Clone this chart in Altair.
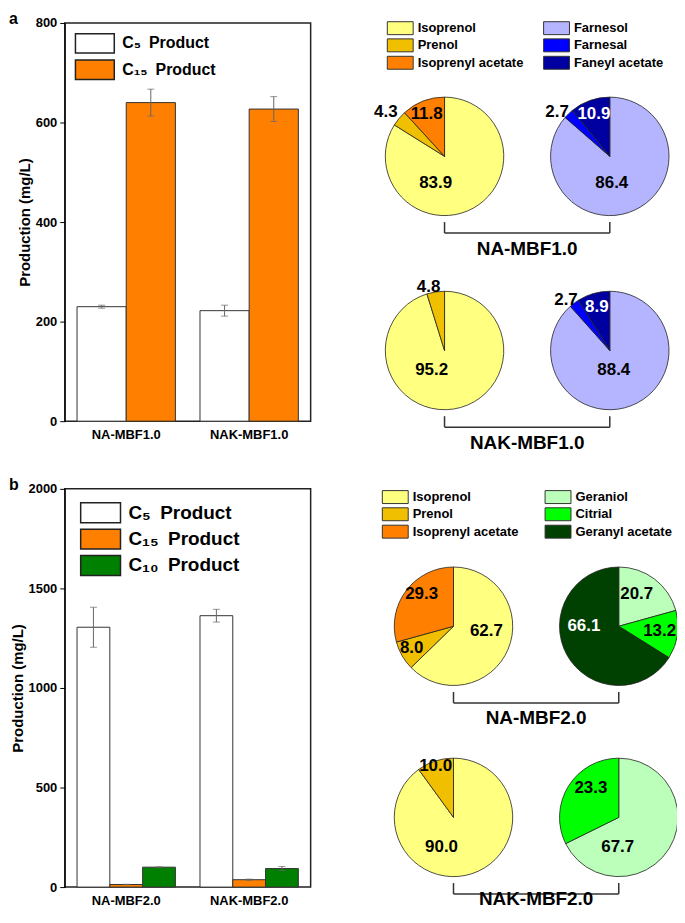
import math
import pandas as pd
import altair as alt

FONT = "Liberation Sans"

# ---------------- data: panel a bars ----------------
STRAINS_A = ["NA-MBF1.0", "NAK-MBF1.0"]
PRODUCTS_A = ["C₅\u2002Product", "C₁₅\u2002Product"]
C5_A = [230, 222]
C5_A_ERR = [3, 11]
C15_A = [640, 627]
C15_A_ERR = [27, 25]

# ---------------- data: panel b bars ----------------
STRAINS_B = ["NA-MBF2.0", "NAK-MBF2.0"]
PRODUCTS_B = ["C₅\u2002Product", "C₁₅\u2002Product", "C₁₀\u2002Product"]
C5_B = [1305, 1363]
C5_B_ERR = [100, 32]
C15_B = [13, 37]
C15_B_ERR = [1, 3]
C10_B = [100, 93]
C10_B_ERR = [2, 10]

# ---------------- data: pies (percent) ----------------
C5_COMPONENTS = ["Isoprenol", "Prenol", "Isoprenyl acetate"]
C15_COMPONENTS = ["Farnesol", "Farnesal", "Faneyl acetate"]
C10_COMPONENTS = ["Geraniol", "Citrial", "Geranyl acetate"]

PIE_A_NA_C5 = [83.9, 4.3, 11.8]
PIE_A_NA_C15 = [86.4, 2.7, 10.9]
PIE_A_NAK_C5 = [95.2, 4.8]
PIE_A_NAK_C15 = [88.4, 2.7, 8.9]
PIE_B_NA_C5 = [62.7, 8.0, 29.3]
PIE_B_NA_C10 = [20.7, 13.2, 66.1]
PIE_B_NAK_C5 = [90.0, 10.0]
PIE_B_NAK_C10 = [67.7, 32.3]
PIE_B_NAK_C10_LABELS = ["67.7", "23.3"]

# ---------------- styles ----------------
BAR_FILLS = ["#FFFFFF", "#FF8000", "#008000"]
C5_COLORS = ["#FFFF80", "#F0C000", "#FF8000"]
C15_COLORS = ["#B4B4FF", "#0000FF", "#0000A0"]
C10_COLORS = ["#BBFFBB", "#00FF00", "#004000"]
RECT = "M-2,-1H2V1H-2Z"   # 2:1 rectangle, drawn twice as wide as its layout box

# label offsets from pie centre (dx, dy) in px, and label colours
OFF_A_NA_C5 = [(-9, 27), (-59, -45), (-18, -43)]
OFF_A_NA_C15 = [(2, 27), (-53, -45), (-16, -43)]
OFF_A_NAK_C5 = [(-13, 20), (-16, -64)]
OFF_A_NAK_C15 = [(4, 20), (-44, -51), (-13, -44)]
OFF_B_NA_C5 = [(33, 5), (-42, 22), (-32, -32)]
OFF_B_NA_C10 = [(18, -32), (41, 5), (-35, 0)]
OFF_B_NAK_C5 = [(-12, 30), (-18, -52)]
OFF_B_NAK_C10 = [(-1, 30), (-28, -30)]
LC_BLACK3 = ["black", "black", "black"]
LC_WHITE_LAST = ["black", "black", "white"]
# distance (px) from pie-row centre down to the bracket caption
CAPTION_GAP_A = [93, 93]
CAPTION_GAP_B = [92, 82]


def bar_layers(strains, products, series, errs, ymax, yticks, legend_font, sym_h, leg_x, leg_y, row_pad):
    rows = []
    for p, vals, es in zip(products, series, errs):
        for s, v, e in zip(strains, vals, es):
            rows.append(dict(strain=s, product=p, value=v, lo=v - e, hi=v + e))
    df = pd.DataFrame(rows)
    xscale = alt.Scale(domain=strains, paddingInner=0.2, paddingOuter=0.1)
    oscale = alt.Scale(domain=products, paddingInner=0, paddingOuter=0)
    yscale = alt.Scale(domain=[0, ymax], nice=False, padding=0)
    xaxis = alt.Axis(title=None, labelAngle=0, ticks=False, domain=False, labelFontSize=13,
                     labelFontWeight="bold", labelColor="black", labelPadding=7)
    yaxis = alt.Axis(values=yticks, format="d", grid=False, title="Production (mg/L)",
                     titleFontSize=15, titleFontWeight="bold", titleColor="black", titlePadding=3,
                     labelFontSize=13, labelFontWeight="bold", labelColor="black", tickSize=5,
                     tickColor="black", domainColor="black", labelPadding=3)
    fills = BAR_FILLS[: len(products)]
    bars = alt.Chart(df).mark_bar(stroke="#333", strokeWidth=1).encode(
        x=alt.X("strain:N", scale=xscale, axis=xaxis),
        xOffset=alt.XOffset("product:N", scale=oscale),
        y=alt.Y("value:Q", scale=yscale, axis=yaxis),
        fill=alt.Fill("product:N", scale=alt.Scale(domain=products, range=fills),
                      legend=alt.Legend(
                          orient="none", legendX=leg_x, legendY=leg_y, title=None,
                          symbolType=RECT, symbolSize=sym_h * sym_h, symbolStrokeColor="#222",
                          symbolStrokeWidth=1.5, symbolOpacity=1, labelFontSize=legend_font,
                          labelFontWeight="bold", labelColor="black", labelOffset=17,
                          rowPadding=row_pad, labelLimit=300)),
    )
    enc = dict(x=alt.X("strain:N", scale=xscale, axis=xaxis),
               xOffset=alt.XOffset("product:N", scale=oscale))
    err = alt.Chart(df).mark_rule(color="#666", strokeWidth=1).encode(
        y=alt.Y("lo:Q", scale=yscale, axis=yaxis), y2="hi:Q", **enc)
    cap_lo = alt.Chart(df).mark_tick(color="#666", size=7, thickness=1).encode(
        y=alt.Y("lo:Q", scale=yscale, axis=yaxis), **enc)
    cap_hi = alt.Chart(df).mark_tick(color="#666", size=7, thickness=1).encode(
        y=alt.Y("hi:Q", scale=yscale, axis=yaxis), **enc)
    return alt.layer(bars, err, cap_lo, cap_hi)


def pie_layers(pies, strains, left_comps, right_comps, left_cols, right_cols,
               xrange, yrange, legend_x, legend_y, col_pad, caption_gap):
    rows = []
    for strain, row, col, comps, vals, labels, offs, lcols in pies:
        start = 0.0
        for c, v, l, (dx, dy), lc in zip(comps, vals, labels, offs, lcols):
            rows.append(dict(strain=strain, row=row, col=col, component=c, start=start,
                             end=start + v, label=l, lab_theta=math.atan2(dx, -dy),
                             lab_r=math.hypot(dx, dy), lab_color=lc))
            start += v
    df = pd.DataFrame(rows)
    order = list(left_comps) + list(right_comps)
    colors = list(left_cols) + list(right_cols)
    xs = alt.Scale(domain=[0, 1], range=xrange, nice=False, zero=False)
    ys = alt.Scale(domain=[0, 1], range=yrange, nice=False, zero=False)
    arcs = alt.Chart(df).mark_arc(radius=59.5, stroke="#222", strokeWidth=0.8).encode(
        x=alt.X("col:Q", scale=xs, axis=None),
        y=alt.Y("row:Q", scale=ys, axis=None),
        theta=alt.Theta("start:Q", scale=alt.Scale(domain=[0, 100], range=[0, 2 * math.pi]), stack=False),
        theta2="end:Q",
        fill=alt.Fill("component:N", scale=alt.Scale(domain=order, range=colors),
                      legend=alt.Legend(
                          orient="none", legendX=legend_x, legendY=legend_y, columns=2,
                          columnPadding=col_pad, rowPadding=-0.5, title=None, symbolType=RECT,
                          symbolSize=169, symbolStrokeColor="#333", symbolStrokeWidth=1,
                          symbolOpacity=1, labelFontSize=13, labelFontWeight="bold",
                          labelColor="black", labelOffset=10.5, labelLimit=300,
                          gridAlign="each")),
    )
    labels = alt.Chart(df).mark_text(fontSize=17, fontWeight="bold", align="center",
                                     baseline="middle").encode(
        x=alt.X("col:Q", scale=xs, axis=None),
        y=alt.Y("row:Q", scale=ys, axis=None),
        theta=alt.Theta("lab_theta:Q", scale=None, stack=False),
        radius=alt.Radius("lab_r:Q", scale=None),
        text="label:N",
        color=alt.Color("lab_color:N", scale=None),
    )
    br = pd.DataFrame([dict(strain=s, row=i, left=0, right=1, mid=0.5, gap=g, down=math.pi)
                       for i, (s, g) in enumerate(zip(strains, caption_gap))])
    brv = pd.DataFrame([dict(row=i, col=c) for i in range(len(strains)) for c in (0, 1)])
    hrule = alt.Chart(br).mark_rule(color="#333", strokeWidth=1.5, yOffset=77).encode(
        x=alt.X("left:Q", scale=xs, axis=None), x2="right:Q",
        y=alt.Y("row:Q", scale=ys, axis=None),
    )
    vrule = alt.Chart(brv).mark_rule(color="#333", strokeWidth=1.5, yOffset=66, y2Offset=77).encode(
        x=alt.X("col:Q", scale=xs, axis=None),
        y=alt.Y("row:Q", scale=ys, axis=None), y2="row:Q",
    )
    blabel = alt.Chart(br).mark_text(fontSize=19, fontWeight="bold", color="black",
                                     align="center", baseline="middle").encode(
        x=alt.X("mid:Q", scale=xs, axis=None),
        y=alt.Y("row:Q", scale=ys, axis=None),
        theta=alt.Theta("down:Q", scale=None, stack=False),
        radius=alt.Radius("gap:Q", scale=None),
        text="strain:N",
    )
    return alt.layer(arcs, labels, hrule, vrule, blabel)


def row_chart(bars, pies, letter):
    return alt.layer(bars, pies).resolve_scale(
        x="independent", y="independent", fill="independent"
    ).resolve_axis(x="independent", y="independent").resolve_legend(fill="independent").properties(
        width=247, height=400,
        view=alt.ViewBackground(stroke="#222", strokeWidth=1.5),
        title=alt.TitleParams(text=letter, anchor="start", frame="group", dx=-56, fontSize=16,
                              fontWeight="bold", offset=-10, color="black"),
    )


pies_a = [
    ("NA-MBF1.0", 0, 0, C5_COMPONENTS, PIE_A_NA_C5, [f"{v:.1f}" for v in PIE_A_NA_C5], OFF_A_NA_C5, LC_BLACK3),
    ("NA-MBF1.0", 0, 1, C15_COMPONENTS, PIE_A_NA_C15, [f"{v:.1f}" for v in PIE_A_NA_C15], OFF_A_NA_C15, LC_WHITE_LAST),
    ("NAK-MBF1.0", 1, 0, C5_COMPONENTS, PIE_A_NAK_C5, [f"{v:.1f}" for v in PIE_A_NAK_C5], OFF_A_NAK_C5, LC_BLACK3),
    ("NAK-MBF1.0", 1, 1, C15_COMPONENTS, PIE_A_NAK_C15, [f"{v:.1f}" for v in PIE_A_NAK_C15], OFF_A_NAK_C15, LC_WHITE_LAST),
]
pies_b = [
    ("NA-MBF2.0", 0, 0, C5_COMPONENTS, PIE_B_NA_C5, [f"{v:.1f}" for v in PIE_B_NA_C5], OFF_B_NA_C5, LC_BLACK3),
    ("NA-MBF2.0", 0, 1, C10_COMPONENTS, PIE_B_NA_C10, [f"{v:.1f}" for v in PIE_B_NA_C10], OFF_B_NA_C10, LC_WHITE_LAST),
    ("NAK-MBF2.0", 1, 0, C5_COMPONENTS, PIE_B_NAK_C5, [f"{v:.1f}" for v in PIE_B_NAK_C5], OFF_B_NAK_C5, LC_BLACK3),
    ("NAK-MBF2.0", 1, 1, C10_COMPONENTS, PIE_B_NAK_C10, PIE_B_NAK_C10_LABELS, OFF_B_NAK_C10, LC_WHITE_LAST),
]

row_a = row_chart(
    bar_layers(STRAINS_A, PRODUCTS_A, [C5_A, C15_A], [C5_A_ERR, C15_A_ERR],
               800, [0, 200, 400, 600, 800], 16, 19.5, 19.75, 10, -0.5),
    pie_layers(pies_a, STRAINS_A, C5_COMPONENTS, C15_COMPONENTS, C5_COLORS, C15_COLORS,
               [381.5, 547.5], [134, 329], 330, -2, 18, CAPTION_GAP_A),
    "a")
row_b = row_chart(
    bar_layers(STRAINS_B, PRODUCTS_B, [C5_B, C15_B, C10_B], [C5_B_ERR, C15_B_ERR, C10_B_ERR],
               2000, [0, 500, 1000, 1500, 2000], 19, 20, 25, 13, 0.5),
    pie_layers(pies_b, STRAINS_B, C5_COMPONENTS, C10_COMPONENTS, C5_COLORS, C10_COLORS,
               [390.5, 556.5], [138, 330], 325, 1, 24.5, CAPTION_GAP_B),
    "b")

chart = alt.vconcat(row_a, row_b, spacing=22).resolve_scale(
    xOffset="independent", fill="independent").properties(
    padding={"top": 0, "left": 0, "right": -4, "bottom": -2}).configure(
    font=FONT).configure_view(stroke="transparent").configure_axis(
    titleFontWeight="bold", labelFontWeight="bold")

chart.save("out.html", embed_options={"renderer": "svg", "actions": False})
